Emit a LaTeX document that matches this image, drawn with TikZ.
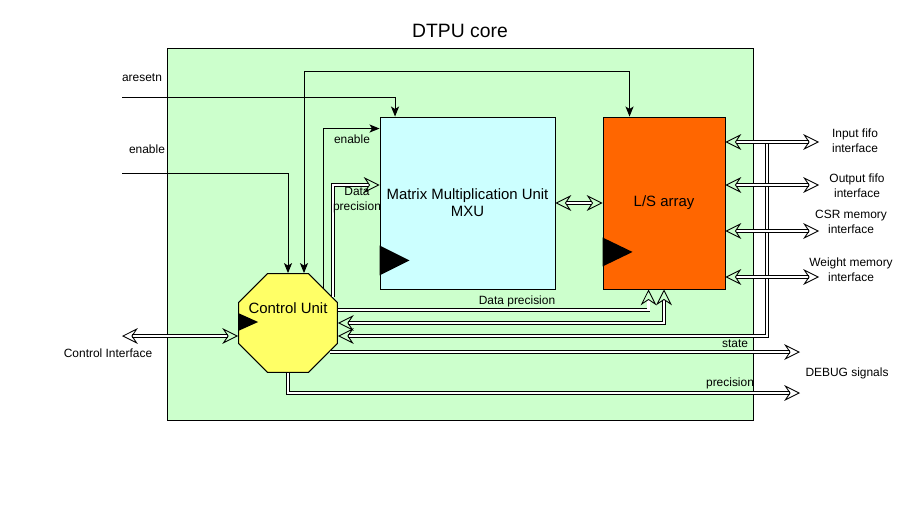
\documentclass[tikz,border=0pt]{standalone}
\usepackage{fontspec}
\setmainfont{Liberation Sans}
\usetikzlibrary{arrows.meta,shapes.geometric}

\definecolor{coregreen}{HTML}{CCFFCC}
\definecolor{mxucyan}{HTML}{CCFFFF}
\definecolor{lsorange}{HTML}{FF6600}
\definecolor{cuyellow}{HTML}{FFFF66}

\tikzset{
    sigtip/.tip={Stealth[length=5.7pt,width=4.6pt,inset=1.4pt]},
    bustip/.tip={Stealth[open,length=9pt,width=9pt,inset=3pt,line width=0.5pt]},
    sig/.style={draw, line width=0.55pt},
    bus/.style={draw, line width=0.5pt, double, double distance=1.2pt},
    lbl/.style={font=\fontsize{6.8}{8.5}\selectfont, align=center, inner sep=0pt},
    block/.style={draw, line width=0.55pt, font=\fontsize{8.5}{9.8}\selectfont, align=center},
}

\begin{document}
\begin{tikzpicture}[x=0.02cm, y=-0.02cm]
        \useasboundingbox (0,0) rectangle (911,524);
        \node[font=\fontsize{11}{13}\selectfont] (title) at (460,31) {DTPU core};
        \node[draw, fill=coregreen, line width=0.55pt, minimum width=11.74cm, minimum height=7.46cm] (core) at (460.5,234.5) {};
        \node[block, fill=mxucyan, minimum width=3.5cm, minimum height=3.44cm] (mxu) at (467.5,203) {Matrix Multiplication Unit\\MXU};
        \node[block, fill=lsorange, minimum width=2.44cm, minimum height=3.44cm] (ls) at (664,203) {L/S array};
        \node[block, fill=cuyellow, regular polygon, regular polygon sides=8, minimum size=2.14cm, inner sep=0pt,
            label={[yshift=0.3cm, font=\fontsize{8.5}{9.8}\selectfont]center:Control Unit}] (cu) at (288,323) {};

        \fill ([yshift=0.28cm]mxu.south west) -- ++(30,-15) -- ++(-30,-15) -- cycle;
        \fill ([yshift=0.46cm]ls.south west) -- ++(30,-14.5) -- ++(-30,-14.5) -- cycle;
        \fill ([yshift=-0.16cm]cu.west) -- ++(20,-9) -- ++(-20,-9) -- cycle;

        \coordinate (rstin) at (122,97);
        \coordinate (enin) at (122,173);
        \coordinate (ctlin) at (122,336);
        \coordinate (stateend) at (800,352);
        \coordinate (precend) at (800,393);
        \coordinate (infifoend) at (819,142);
        \coordinate (outfifoend) at (819,185);
        \coordinate (csrend) at (819,231);
        \coordinate (wgtend) at (819,277);
        \coordinate (busjoin) at (767,142);

        \draw[sig, -sigtip] (rstin) -| ([xshift=0.31cm]mxu.north west);
        \draw[sig, sigtip-sigtip] ([xshift=0.32cm]cu.north) |- ([xshift=0.54cm, yshift=0.9cm]ls.north west) -- ([xshift=0.54cm]ls.north west);
        \draw[sig, -sigtip] (enin) -| (cu.north);
        \draw[sig, -sigtip] (cu.north east) |- ([yshift=-0.24cm]mxu.north west);

        \draw[bus, -bustip] (cu.30) |- ([yshift=0.36cm]mxu.west);
        \draw[bus, -bustip] ([yshift=0.26cm]cu.east) -| ([xshift=0.92cm]ls.south west);
        \draw[bus, bustip-bustip] (cu.east) -| (ls.south);
        \draw[bus, bustip-] ([yshift=-0.26cm]cu.east) -| (busjoin);
        \draw[bus, -bustip] (cu.-35) -- (cu.-35 -| stateend);
        \draw[bus, -bustip] (cu.south) |- (precend);
        \draw[bus, bustip-bustip] (ctlin) -- (ctlin -| cu.west);
        \draw[bus, bustip-bustip] (mxu.east) -- (ls.west);
        \draw[bus, bustip-bustip] (infifoend -| ls.east) -- (infifoend);
        \draw[bus, bustip-bustip] (outfifoend -| ls.east) -- (outfifoend);
        \draw[bus, bustip-bustip] (csrend -| ls.east) -- (csrend);
        \draw[bus, bustip-bustip] (wgtend -| ls.east) -- (wgtend);

        \node[lbl] (rstlbl) at (142,78) {aresetn};
        \node[lbl] (enlbl) at (147,149) {enable};
        \node[lbl] (enmxulbl) at (352,139) {enable};
        \node[lbl] (dpmxulbl) at (357,200) {Data\\precision};
        \node[lbl] (dplslbl) at (517,301) {Data precision};
        \node[lbl] (statelbl) at (735,344) {state};
        \node[lbl] (preclbl) at (730,383) {precision};
        \node[lbl] (dbglbl) at (847,373) {DEBUG signals};
        \node[lbl] (ctllbl) at (108,353) {Control Interface};
        \node[lbl] (infifolbl) at (855,141) {Input fifo\\interface};
        \node[lbl] (outfifolbl) at (857,186) {Output fifo\\interface};
        \node[lbl] (csrlbl) at (851,222) {CSR memory\\interface};
        \node[lbl] (wgtlbl) at (851,270) {Weight memory\\interface};
    \end{tikzpicture}
\end{document}
